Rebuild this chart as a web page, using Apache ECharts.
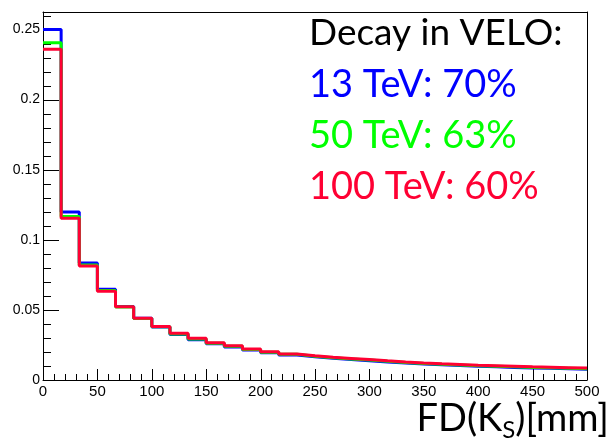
<!DOCTYPE html>
<html>
<head>
<meta charset="utf-8">
<script src="https://cdn.jsdelivr.net/npm/echarts@6/dist/echarts.min.js"></script>
<style>
  html, body { margin: 0; padding: 0; background: #fff; }
  #chart { width: 614px; height: 438px; }
</style>
</head>
<body>
<div id="chart"></div>
<script>
// Flight-distance histogram: 30 bins over 0–500 mm
const xMin = 0;
const xMax = 500;
const nBins = 30;
const binEdges = Array.from({ length: nBins + 1 }, (_, i) => xMin + i * (xMax - xMin) / nBins);

const seriesNames = ['13 TeV', '50 TeV', '100 TeV'];
const seriesColors = ['#0000ff', '#00ff00', '#ff0033'];
const fractions = ['70%', '63%', '60%'];

const values13 = [0.250, 0.1198, 0.0835, 0.0647, 0.0525, 0.0440, 0.0378, 0.0325, 0.0288, 0.0258,
                  0.0236, 0.0214, 0.0194, 0.0179, 0.0166, 0.0155, 0.0146, 0.0138, 0.0129, 0.0121,
                  0.0114, 0.0108, 0.0103, 0.0098, 0.0094, 0.0090, 0.0086, 0.0083, 0.0080, 0.0077];
const values50 = [0.2406, 0.1167, 0.0820, 0.0638, 0.0521, 0.0438, 0.0379, 0.0329, 0.0293, 0.0262,
                  0.0240, 0.0218, 0.0198, 0.0183, 0.0170, 0.0159, 0.0150, 0.0142, 0.0133, 0.0125,
                  0.0118, 0.0112, 0.0107, 0.0102, 0.0098, 0.0094, 0.0090, 0.0087, 0.0084, 0.0081];
const values100 = [0.236, 0.1153, 0.0813, 0.0633, 0.0522, 0.0440, 0.0382, 0.0333, 0.0297, 0.0266,
                   0.0245, 0.0222, 0.0201, 0.0186, 0.0173, 0.0162, 0.0154, 0.0146, 0.0137, 0.0129,
                   0.0122, 0.0116, 0.0111, 0.0106, 0.0102, 0.0098, 0.0094, 0.0091, 0.0088, 0.0085];
const allValues = [values13, values50, values100];

const yMin = 0;
const yMax = 0.2625;
const yMajor = 0.05;
const yMinor = 0.01;
const xMajor = 50;
const xMinor = 10;

// ROOT-style inward tick marks: every minor step, long at the major steps
const xTickVals = Array.from({ length: Math.round((xMax - xMin) / xMinor) + 1 }, (_, i) => xMin + i * xMinor);
const yTickVals = Array.from({ length: Math.floor((yMax - yMin) / yMinor + 1e-9) + 1 }, (_, i) => +(yMin + i * yMinor).toFixed(4));

// step outline: each bin's left edge carries its height, plus a closing point at the last edge
function stepData(vals) {
  const pts = vals.map((v, i) => [binEdges[i], v]);
  pts.push([binEdges[nBins], vals[nBins - 1]]);
  return pts;
}

const chart = echarts.init(document.getElementById('chart'));
const labelFont = 'Liberation Sans, Arial, sans-serif';
const textFont = 'Lato, sans-serif';
const isMultiple = (v, step) => Math.abs(v / step - Math.round(v / step)) < 1e-6;

// text block in the upper right: heading plus one line per energy
const textBlock = [
  { text: 'Decay in VELO:', color: '#000', size: 37, top: 15 },
  ...seriesNames.map((n, k) => ({ text: n + ': ' + fractions[k], color: seriesColors[k], size: 38, top: 66 + k * 51 }))
];

function xTickItem(params, api) {
  const v = api.value(0);
  const p = api.coord([v, yMin]);
  const len = isMultiple(v, xMajor) ? 11 : 6;
  const x = Math.round(p[0]) + 0.5;
  return { type: 'line', shape: { x1: x, y1: p[1], x2: x, y2: p[1] - len },
           style: { stroke: '#000', lineWidth: 1 } };
}
function yTickItem(params, api) {
  const v = api.value(1);
  const p = api.coord([xMin, v]);
  const len = isMultiple(v, yMajor) ? 16 : 8;
  const y = Math.round(p[1]) + 0.5;
  return { type: 'line', shape: { x1: p[0], y1: y, x2: p[0] + len, y2: y },
           style: { stroke: '#000', lineWidth: 1 } };
}

chart.setOption({
  animation: false,
  backgroundColor: '#ffffff',
  grid: { left: 43, right: 27, top: 12, bottom: 58 },
  title: [
    ...textBlock.map(t => ({
      text: t.text, left: 309, top: t.top, padding: 0,
      textStyle: { color: t.color, fontFamily: textFont, fontSize: t.size, fontWeight: 'normal' }
    })),
    {
      text: '{a|FD(K}{s|S}{a|)[mm]}', right: 5, top: 396, padding: 0,
      textStyle: {
        fontWeight: 'normal',
        rich: {
          a: { fontFamily: textFont, fontSize: 38, fontWeight: 'normal', color: '#000' },
          s: { fontFamily: textFont, fontSize: 24, fontWeight: 'normal', color: '#000', padding: [22, 0, 0, 0] }
        }
      }
    }
  ],
  xAxis: [
    { type: 'value', min: xMin, max: xMax, interval: xMajor, position: 'bottom',
      axisLine: { show: true, lineStyle: { color: '#000', width: 1 } },
      axisTick: { show: false },
      splitLine: { show: false },
      axisLabel: { color: '#000', fontFamily: labelFont, fontSize: 15, margin: 4 } },
    { type: 'value', min: xMin, max: xMax, position: 'top',
      axisLine: { show: true, onZero: false, lineStyle: { color: '#000', width: 1 } },
      axisTick: { show: false }, splitLine: { show: false }, axisLabel: { show: false } }
  ],
  yAxis: [
    { type: 'value', min: yMin, max: yMax, interval: yMajor, position: 'left',
      axisLine: { show: true, onZero: false, lineStyle: { color: '#000', width: 1 } },
      axisTick: { show: false },
      splitLine: { show: false },
      axisLabel: { color: '#000', fontFamily: labelFont, fontSize: 14, margin: 3,
                   formatter: v => (isMultiple(v, yMajor) ? String(+v.toFixed(2)) : '') } },
    { type: 'value', min: yMin, max: yMax, position: 'right',
      axisLine: { show: true, onZero: false, lineStyle: { color: '#000', width: 1 } },
      axisTick: { show: false }, splitLine: { show: false }, axisLabel: { show: false } }
  ],
  series: [
    ...allValues.map((vals, k) => ({
      name: seriesNames[k],
      type: 'line',
      step: 'end',
      data: stepData(vals),
      symbol: 'none',
      lineStyle: { color: seriesColors[k], width: 3 },
      z: 2 + k
    })),
    {
      type: 'custom', silent: true, clip: false, z: 1,
      encode: { x: 0, y: 1 },
      data: xTickVals.map(v => [v, yMin]),
      renderItem: xTickItem
    },
    {
      type: 'custom', silent: true, clip: false, z: 1,
      encode: { x: 0, y: 1 },
      data: yTickVals.map(v => [xMin, v]),
      renderItem: yTickItem
    }
  ]
});
</script>
</body>
</html>
